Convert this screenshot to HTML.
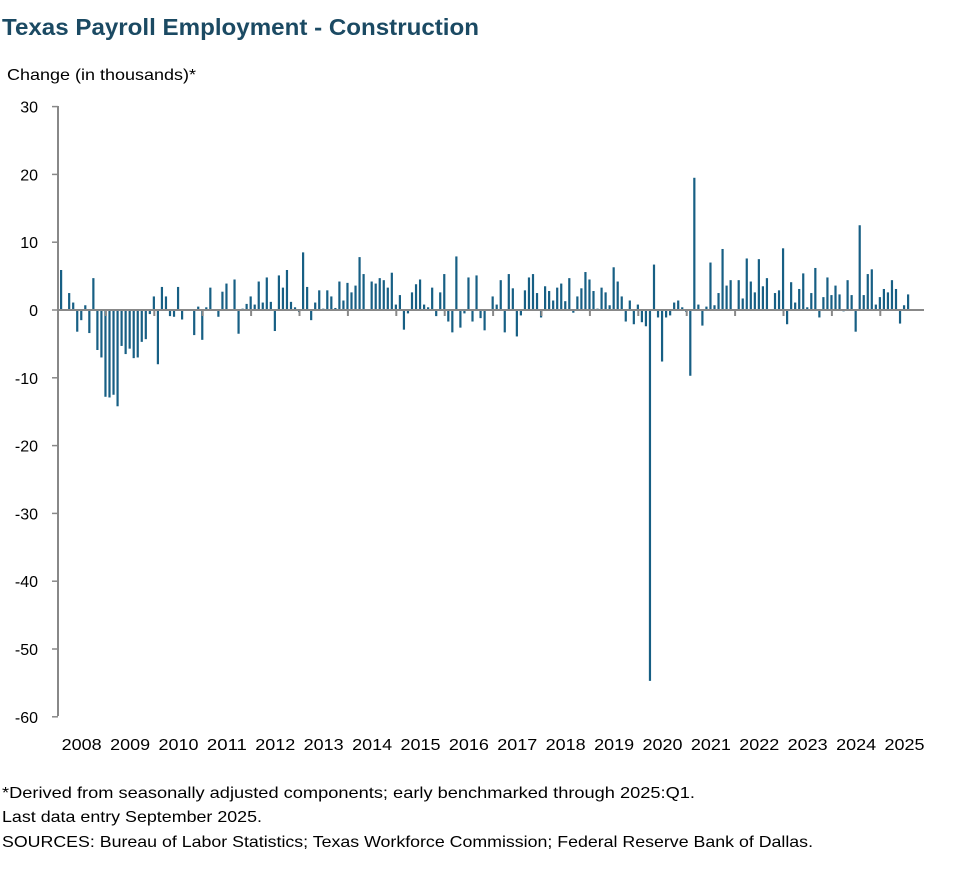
<!DOCTYPE html>
<html><head><meta charset="utf-8"><style>
body{margin:0;background:#fff;font-family:"Liberation Sans",sans-serif;}
</style></head><body>
<svg width="979" height="878" xmlns="http://www.w3.org/2000/svg" font-family="Liberation Sans, sans-serif">
<text x="2" y="35" font-size="23" font-weight="bold" fill="#1b4a63" textLength="477" lengthAdjust="spacingAndGlyphs">Texas Payroll Employment - Construction</text>
<text x="7" y="80" font-size="16" fill="#000" textLength="189" lengthAdjust="spacingAndGlyphs">Change (in thousands)*</text>
<g font-size="16" text-anchor="end" fill="#000" id="yl"></g>
<g id="bars" fill="#175f84"></g>
<line x1="58" y1="106" x2="58" y2="716" stroke="#888" stroke-width="2"/>
<g id="ax"></g>
<g font-size="16" fill="#000" text-anchor="middle" id="xl"></g>
<text x="2" y="798" font-size="16" textLength="693" lengthAdjust="spacingAndGlyphs">*Derived from seasonally adjusted components; early benchmarked through 2025:Q1.</text>
<text x="2" y="822" font-size="16" textLength="260" lengthAdjust="spacingAndGlyphs">Last data entry September 2025.</text>
<text x="2" y="847" font-size="16" textLength="811" lengthAdjust="spacingAndGlyphs">SOURCES: Bureau of Labor Statistics; Texas Workforce Commission; Federal Reserve Bank of Dallas.</text>
</svg>
<script>
var d=[5.9,0,2.5,1.1,-3.2,-1.5,0.7,-3.4,4.7,-5.9,-7.0,-12.8,-12.9,-12.5,-14.2,-5.3,-6.5,-5.7,-7.1,-7.0,-4.7,-4.3,-0.6,2.0,-8.0,3.4,2.0,-0.9,-1.0,3.4,-1.4,0,0,-3.7,0.5,-4.4,0.4,3.3,0,-1.0,2.7,3.9,0,4.5,-3.5,0.2,0.9,2.0,0.8,4.2,1.1,4.8,1.2,-3.1,5.1,3.3,5.9,1.2,0.4,-0.3,8.5,3.4,-1.5,1.1,2.9,0.2,2.9,2.0,0.3,4.2,1.4,4.0,
2.6,3.6,7.8,5.3,0,4.2,3.9,4.7,4.4,3.3,5.5,0.8,2.2,-2.9,-0.5,2.6,3.8,4.5,0.8,0.4,3.3,-0.9,2.6,5.3,-1.7,-3.3,7.9,-2.6,-0.5,4.8,-1.7,5.1,-1.2,-3.0,0,2.0,0.8,4.4,-3.3,5.3,3.2,-3.9,-0.8,2.9,4.8,5.3,2.5,-1.1,3.5,2.8,1.4,3.3,3.9,1.3,4.7,-0.4,2.0,3.2,5.6,4.5,2.8,0.2,3.3,2.6,0.7,6.3,4.2,2.0,-1.7,1.4,-2.1,0.8,-1.8,-2.4,-54.7,
6.7,-1.1,-7.6,-1.1,-0.8,1.1,1.4,0.4,-0.3,-9.7,19.5,0.8,-2.3,0.5,7.0,0.7,2.5,9.0,3.6,4.4,0,4.4,1.7,7.6,4.2,2.6,7.5,3.5,4.7,0,2.5,2.9,9.1,-2.1,4.1,1.1,3.1,5.4,0.4,2.5,6.2,-1.1,1.9,4.8,2.2,3.6,2.3,-0.2,4.4,2.2,-3.2,12.5,2.2,5.3,6.0,0.8,1.9,3.1,2.6,4.4,3.1,-2.0,0.7,2.3];
var NS="http://www.w3.org/2000/svg",z=310,s=6.78,yw=48.4,x0=57.5;
function el(p,t,a,tx){var e=document.createElementNS(NS,t);for(var k in a)e.setAttribute(k,a[k]);if(tx!=null)e.textContent=tx;document.getElementById(p).appendChild(e);}
for(var v=30;v>=-60;v-=10){var y=z-v*s;el("yl","text",{x:38,y:y+6},String(v));el("ax","line",{x1:52,y1:y,x2:58,y2:y,stroke:"#888","stroke-width":1.5});}
d.forEach(function(v,i){var x=x0+2.5+i*yw/12;var h=Math.abs(v)*s;el("bars","rect",{x:x,y:v>=0?z-h:z,width:2.2,height:Math.max(h,0.5)});});
el("ax","line",{x1:58,y1:z,x2:924,y2:z,stroke:"#888","stroke-width":2});
for(var j=0;j<18;j++){var xx=x0+j*yw;if(j>0)el("ax","line",{x1:xx,y1:z,x2:xx,y2:z+6,stroke:"#888","stroke-width":2});el("xl","text",{x:xx+yw/2,y:750,textLength:40,lengthAdjust:"spacingAndGlyphs"},String(2008+j));}
</script>
</body></html>
